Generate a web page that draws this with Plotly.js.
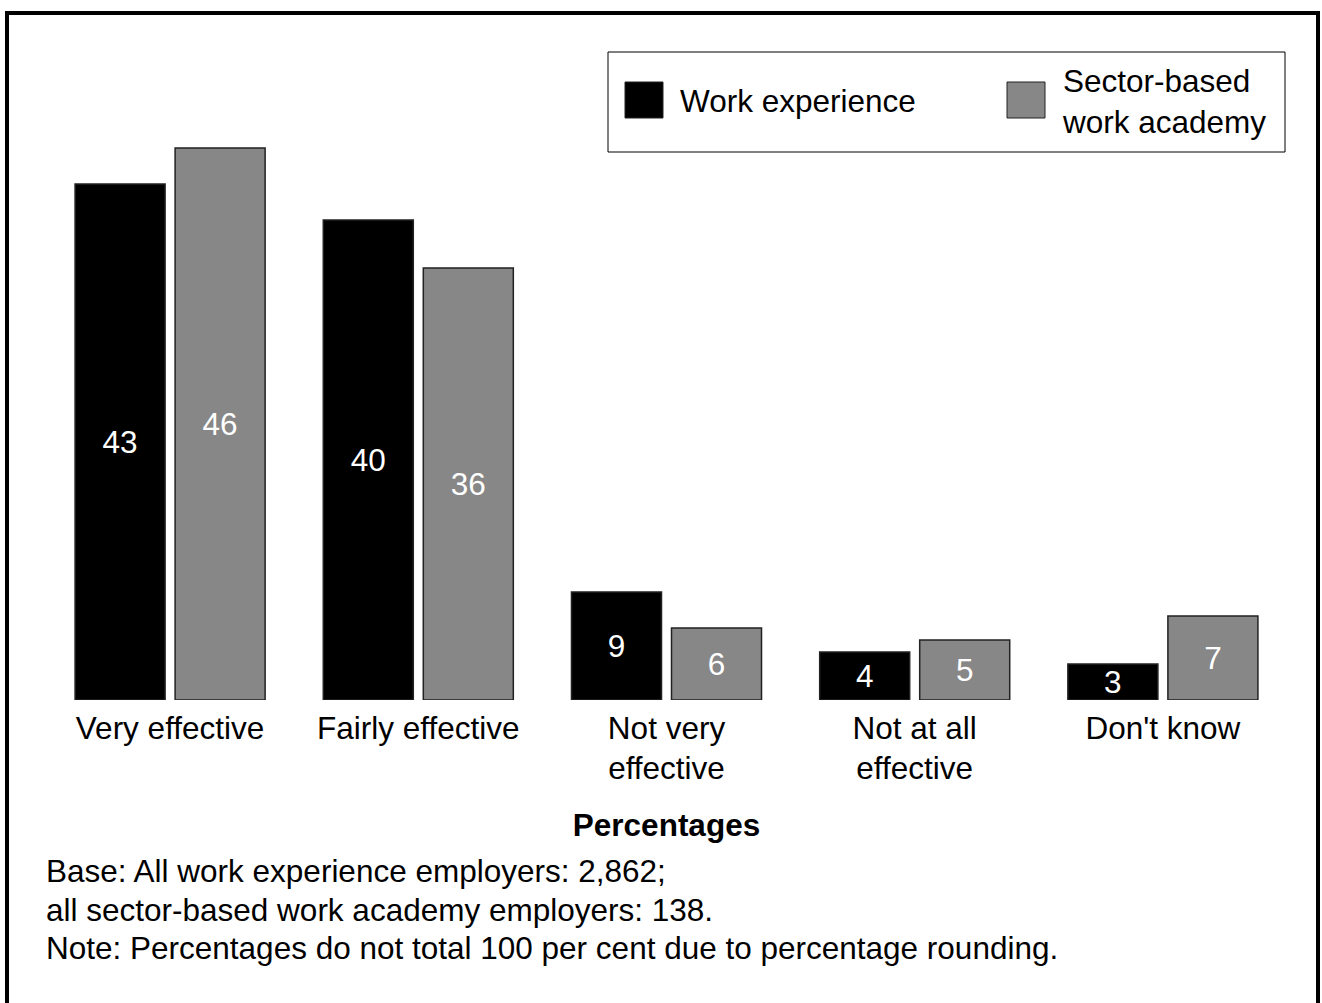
<!DOCTYPE html>
<html>
<head>
<meta charset="utf-8">
<script src="https://cdn.plot.ly/plotly-3.0.1.min.js"></script>
<style>html,body{margin:0;padding:0;background:#fff;}#chart{width:1322px;height:1003px;}</style>
</head>
<body>
<div id="chart"></div>
<script>
const categories = ["Very effective", "Fairly effective", "Not very<br>effective", "Not at all<br>effective", "Don't know"];
const seriesNames = ["Work experience", "Sector-based<br>work academy"];
const workExperience = [43, 40, 9, 4, 3];
const sectorAcademy = [46, 36, 6, 5, 7];
const axisTitle = "Percentages";
const noteLines = [
  "Base: All work experience employers: 2,862;",
  "all sector-based work academy employers: 138.",
  "Note: Percentages do not total 100 per cent due to percentage rounding."
];

const FONT = "Liberation Sans, Arial, sans-serif";
const FS = 31.5;
const colors = ["#000000", "#878787"];

function barTrace(vals, name, color) {
  return {
    type: "bar",
    x: categories,
    y: vals,
    name: name,
    text: vals.map(String),
    textposition: "inside",
    insidetextanchor: "middle",
    textangle: 0,
    constraintext: "none",
    textfont: {family: FONT, size: FS, color: "#ffffff"},
    marker: {color: color, line: {color: "#222222", width: 1.5}},
    hoverinfo: "skip"
  };
}

const data = [
  barTrace(workExperience, seriesNames[0], colors[0]),
  barTrace(sectorAcademy, seriesNames[1], colors[1])
];

// pixel -> paper helpers (plot area: x 46..1287, y 100..700)
const L = 46, R = 1287, T = 100, B = 700;
const px = v => (v - L) / (R - L);
const py = v => (B - v) / (B - T);

const shapes = [
  {type: "rect", xref: "paper", yref: "paper", x0: px(7), x1: px(1318), y0: py(1012), y1: py(13), line: {color: "#000", width: 4}, fillcolor: "rgba(0,0,0,0)", layer: "above"},
  {type: "rect", xref: "paper", yref: "paper", x0: px(608), x1: px(1285), y0: py(152), y1: py(52), line: {color: "#000", width: 1}, fillcolor: "#fff"},
  {type: "rect", xref: "paper", yref: "paper", x0: px(625), x1: px(663), y0: py(118), y1: py(82), line: {color: "#222", width: 1}, fillcolor: colors[0]},
  {type: "rect", xref: "paper", yref: "paper", x0: px(1007), x1: px(1045), y0: py(118), y1: py(82), line: {color: "#222", width: 1}, fillcolor: colors[1]}
];

const annotations = [
  {xref: "paper", yref: "paper", x: px(678), y: py(101), xanchor: "left", yanchor: "middle", text: seriesNames[0], showarrow: false, align: "left", font: {family: FONT, size: FS, color: "#000"}},
  {xref: "paper", yref: "paper", x: px(1060), y: py(102), xanchor: "left", yanchor: "middle", text: seriesNames[1], showarrow: false, align: "left", font: {family: FONT, size: FS, color: "#000"}}
];
const noteY = [871, 910, 948];
noteLines.forEach((t, i) => {
  annotations.push({xref: "paper", yref: "paper", x: px(44), y: py(noteY[i]), xanchor: "left", yanchor: "middle", text: t, showarrow: false, align: "left", font: {family: FONT, size: FS, color: "#000"}});
});

const layout = {
  width: 1322,
  height: 1003,
  margin: {l: L, r: 1322 - R, t: T, b: 1003 - B, pad: 0},
  paper_bgcolor: "#fff",
  plot_bgcolor: "#fff",
  showlegend: false,
  barmode: "group",
  bargap: 0.194,
  bargroupgap: 0.1,
  font: {family: FONT, size: FS, color: "#000"},
  xaxis: {
    type: "category",
    showline: false,
    showgrid: false,
    zeroline: false,
    ticks: "",
    ticklabelstandoff: 6,
    tickfont: {family: FONT, size: FS, color: "#000"},
    title: {text: "<b>" + axisTitle + "</b>", font: {family: FONT, size: FS, color: "#000"}, standoff: 28},
    automargin: false
  },
  yaxis: {
    range: [0, 50],
    visible: false,
    showgrid: false,
    zeroline: false,
    fixedrange: true
  },
  shapes: shapes,
  annotations: annotations,
  hovermode: false
};

Plotly.newPlot("chart", data, layout, {displayModeBar: false, staticPlot: true});
</script>
</body>
</html>
